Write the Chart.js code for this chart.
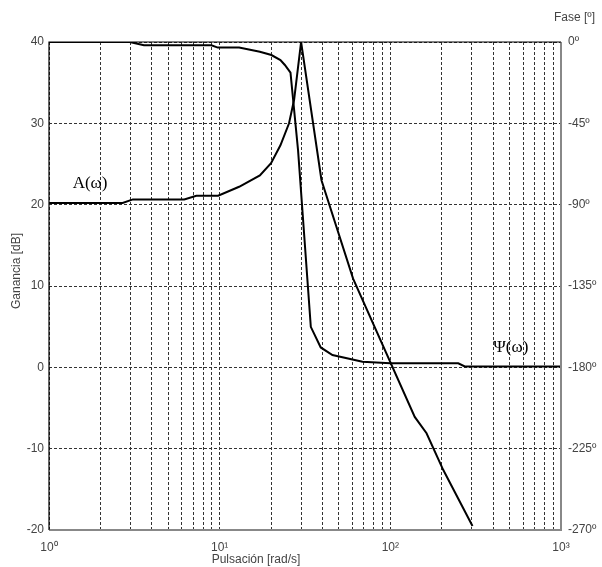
<!DOCTYPE html>
<html>
<head>
<meta charset="utf-8">
<script src="https://cdn.jsdelivr.net/npm/chart.js@4.4.1/dist/chart.umd.min.js"></script>
<style>
  html, body { margin: 0; padding: 0; background: #fff; }
  canvas { display: block; }
</style>
</head>
<body>
<canvas id="bode" width="602" height="567"></canvas>
<script>
// gain curve A(w)
const gainOmega = [1, 2.7, 3.1, 6.2, 7.3, 9.8, 13, 17.2, 20, 22.7, 25.5, 27.3, 30, 39.5, 60.5, 139, 163, 204, 303];
const gainDb = [20.2, 20.2, 20.65, 20.65, 21.1, 21.1, 22.2, 23.6, 25.1, 27.3, 30.0, 32.9, 40, 23.0, 10.9, -6.1, -8.1, -12.6, -19.5];

// phase curve Psi(w) in degrees
const phaseOmega = [1, 2.97, 3.6, 8.95, 9.75, 13, 17.2, 20.1, 22.7, 24.1, 26, 28.8, 34.2, 39.1, 45.8, 68.7, 100, 250, 273, 1000];
const phaseDeg = [0, 0, -1.8, -1.8, -3.1, -3.1, -5.4, -7.2, -10, -12.7, -17, -60, -157.6, -169, -173.2, -176.9, -177.8, -177.8, -179.5, -179.5];

// log grid lines and labelled decades
const xGrid = [1, 2, 3, 4, 5, 6, 7, 8, 9, 10, 20, 30, 40, 50, 60, 70, 80, 90, 100, 200, 300, 400, 500, 600, 700, 800, 900, 1000];
const xDecades = [1, 10, 100, 1000];
const xDecadeLabels = ['10⁰', '10¹', '10²', '10³'];

const tickFont = { family: "'Liberation Sans', Arial, sans-serif", size: 12 };
const tickColor = '#444';
const gridDash = [3, 2];

const frameAndText = {
  id: 'frameAndText',
  afterDatasetsDraw(chart) {
    const { ctx, chartArea: a } = chart;
    ctx.save();
    ctx.setLineDash([]);
    // bottom + right grey
    ctx.strokeStyle = '#888';
    ctx.lineWidth = 2;
    ctx.beginPath();
    ctx.moveTo(a.left, a.bottom);
    ctx.lineTo(a.right, a.bottom);
    ctx.lineTo(a.right, a.top);
    ctx.stroke();
    // left + top black
    ctx.strokeStyle = '#000';
    ctx.lineWidth = 1.2;
    ctx.beginPath();
    ctx.moveTo(a.left, a.bottom);
    ctx.lineTo(a.left, a.top);
    ctx.lineTo(a.right, a.top);
    ctx.stroke();
    ctx.restore();
  },
  afterDraw(chart) {
    const { ctx, scales } = chart;
    ctx.save();
    ctx.fillStyle = tickColor;
    ctx.font = "12px 'Liberation Sans', Arial, sans-serif";
    ctx.textBaseline = 'middle';

    // axis titles
    ctx.textAlign = 'center';
    ctx.fillText('Pulsación [rad/s]', 256, 560);
    ctx.textAlign = 'left';
    ctx.fillText('Fase [º]', 554, 18);
    ctx.save();
    ctx.translate(17, 271);
    ctx.rotate(-Math.PI / 2);
    ctx.textAlign = 'center';
    ctx.fillText('Ganancia [dB]', 0, 0);
    ctx.restore();

    // curve names
    ctx.fillStyle = '#000';
    ctx.font = "17px 'Liberation Serif', 'Times New Roman', serif";
    ctx.textAlign = 'center';
    ctx.fillText('A(ω)', scales.x.getPixelForValue(1.74), scales.y.getPixelForValue(22.6));
    ctx.fillText('Ψ(ω)', scales.x.getPixelForValue(508), scales.y2.getPixelForValue(-169));
    ctx.restore();
  }
};

const bodeChart = new Chart(document.getElementById('bode'), {
  type: 'line',
  data: {
    datasets: [
      {
        label: 'A(ω)',
        data: gainOmega.map((w, i) => ({ x: w, y: gainDb[i] })),
        yAxisID: 'y',
        borderColor: '#000',
        borderWidth: 2,
        pointRadius: 0,
        tension: 0
      },
      {
        label: 'Ψ(ω)',
        data: phaseOmega.map((w, i) => ({ x: w, y: phaseDeg[i] })),
        yAxisID: 'y2',
        borderColor: '#000',
        borderWidth: 2,
        pointRadius: 0,
        tension: 0
      }
    ]
  },
  options: {
    responsive: false,
    animation: false,
    layout: { padding: { top: 42, left: 0, right: 0, bottom: 0 } },
    plugins: {
      legend: { display: false },
      tooltip: { enabled: false },
      title: { display: false }
    },
    scales: {
      x: {
        type: 'logarithmic',
        min: 1,
        max: 1000,
        afterBuildTicks: (axis) => { axis.ticks = xGrid.map(v => ({ value: v })); },
        afterFit: (s) => { s.height = 37; s.paddingLeft = 0; s.paddingRight = 0; },
        ticks: {
          autoSkip: false,
          maxRotation: 0,
          padding: 10,
          color: tickColor,
          font: tickFont,
          callback: (v) => {
            const k = xDecades.indexOf(v);
            return k >= 0 ? xDecadeLabels[k] : '';
          }
        },
        grid: { color: '#333', lineWidth: 1, drawTicks: false, borderDash: gridDash },
        border: { display: false, dash: gridDash }
      },
      y: {
        position: 'left',
        min: -20,
        max: 40,
        afterFit: (s) => { s.width = 49; s.paddingTop = 0; s.paddingBottom = 0; },
        ticks: { stepSize: 10, padding: 5, color: tickColor, font: tickFont },
        grid: { color: '#333', lineWidth: 1, drawTicks: false, borderDash: gridDash },
        border: { display: false, dash: gridDash }
      },
      y2: {
        position: 'right',
        min: -270,
        max: 0,
        afterFit: (s) => { s.width = 41; s.paddingTop = 0; s.paddingBottom = 0; },
        ticks: {
          stepSize: 45,
          padding: 7,
          color: tickColor,
          font: tickFont,
          callback: (v) => v + 'º'
        },
        grid: { drawOnChartArea: false, drawTicks: false },
        border: { display: false }
      }
    }
  },
  plugins: [frameAndText]
});
</script>
</body>
</html>
